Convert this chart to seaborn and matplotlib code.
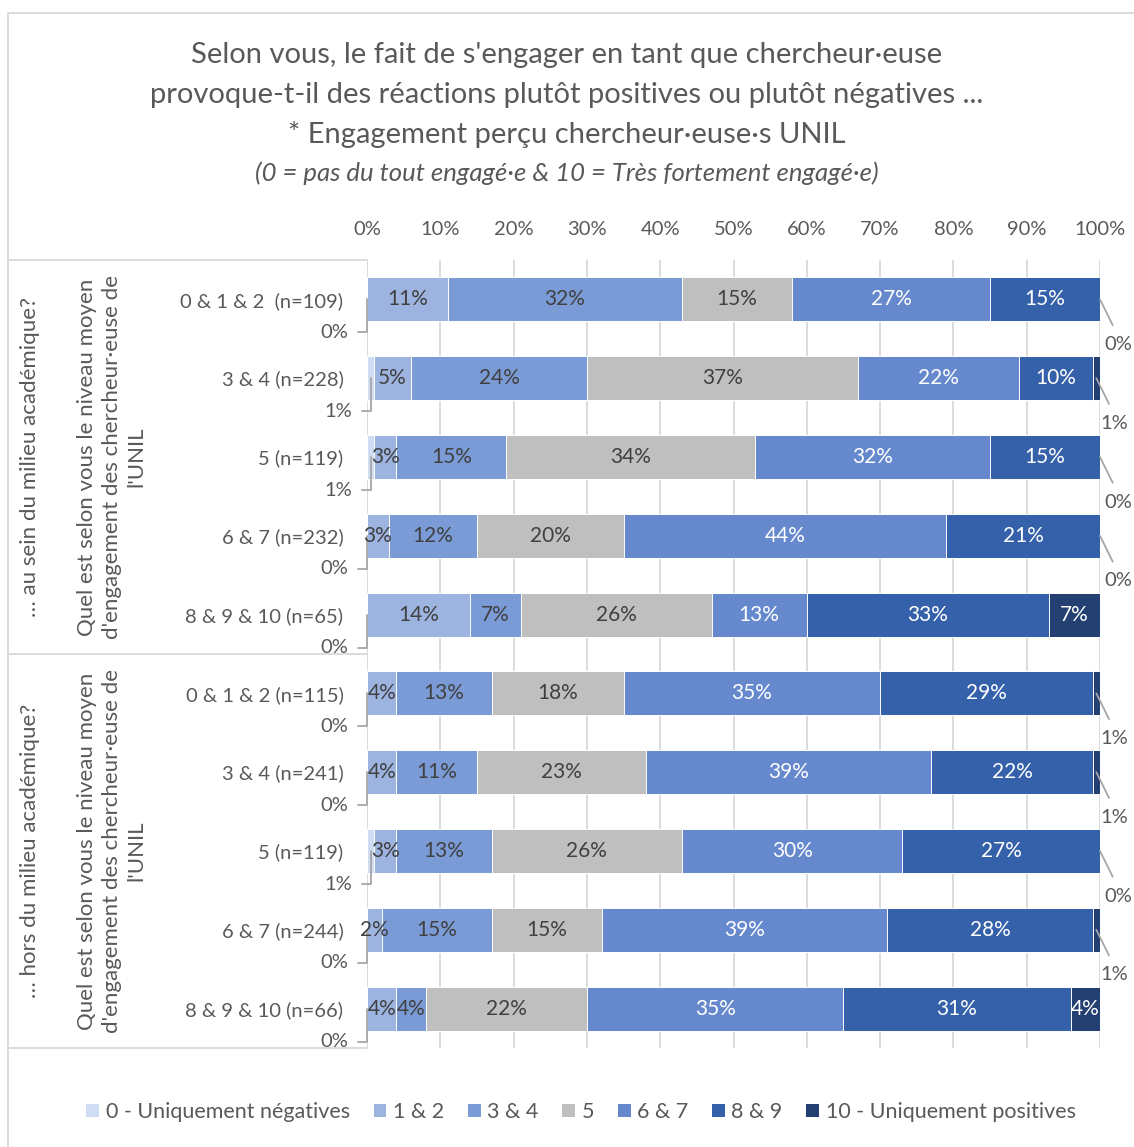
import numpy as np
import pandas as pd
import matplotlib
matplotlib.use("Agg")
import matplotlib.pyplot as plt
from matplotlib.lines import Line2D
from matplotlib.patches import Patch
import seaborn as sns

# ---- data ---------------------------------------------------------------
categories = ["0 - Uniquement négatives", "1 & 2", "3 & 4", "5", "6 & 7", "8 & 9",
              "10 - Uniquement positives"]
row_labels = ["0 & 1 & 2  (n=109)", "3 & 4 (n=228)", "5 (n=119)", "6 & 7 (n=232)",
              "8 & 9 & 10 (n=65)",
              "0 & 1 & 2 (n=115)", "3 & 4 (n=241)", "5 (n=119)", "6 & 7 (n=244)",
              "8 & 9 & 10 (n=66)"]
group_labels = ["… au sein du milieu académique?", "… hors du milieu académique?"]
axis_question = "Quel est selon vous le niveau moyen\nd'engagement des chercheur·euse de\nl'UNIL"

neg0 = [0, 1, 1, 0, 0, 0, 0, 1, 0, 0]
v12 = [11, 5, 3, 3, 14, 4, 4, 3, 2, 4]
v34 = [32, 24, 15, 12, 7, 13, 11, 13, 15, 4]
v5 = [15, 37, 34, 20, 26, 18, 23, 26, 15, 22]
v67 = [27, 22, 32, 44, 13, 35, 39, 30, 39, 35]
v89 = [15, 10, 15, 21, 33, 29, 22, 27, 28, 31]
pos10 = [0, 1, 0, 0, 7, 1, 1, 0, 1, 4]

title_lines = ["Selon vous, le fait de s'engager en tant que chercheur·euse",
               "provoque-t-il des réactions plutôt positives ou plutôt négatives ...",
               "* Engagement perçu chercheur·euse·s UNIL"]
subtitle = "(0 = pas du tout engagé·e & 10 = Très fortement engagé·e)"

# ---- styling --------------------------------------------------------------
colors = ["#cfdcf1", "#9db4e0", "#7a9bd5", "#bfbfbf", "#6689cd", "#3561aa", "#243f72"]
label_colors = ["#404040", "#404040", "#404040", "#404040", "white", "white", "white"]
GRAY = "#595959"
LINE = "#d9d9d9"
FS = 14.5

sns.set_theme(style="white")
plt.rcParams["font.family"] = ["Lato", "DejaVu Sans"]

W, H = 1134, 1147
fig = plt.figure(figsize=(W / 100, H / 100), dpi=100)
ax = fig.add_axes([367 / W, 1 - 1048 / H, 733 / W, 788 / H])

series = [neg0, v12, v34, v5, v67, v89, pos10]
vals = np.array(series, dtype=float)          # shape (7, 10)
cum = np.cumsum(vals, axis=0)
row_ids = [f"r{i}" for i in range(len(row_labels))]

df = pd.DataFrame({"row": row_ids})
for k in range(len(categories)):
    df[f"cum{k}"] = cum[k]

# stacked bars: draw cumulative totals from the outermost segment inward
for k in range(len(categories) - 1, -1, -1):
    sns.barplot(data=df, x=f"cum{k}", y="row", order=row_ids, color=colors[k],
                orient="h", width=0.56, edgecolor="white", linewidth=0.7,
                saturation=1, ax=ax, zorder=2)

ax.set_xlim(0, 100)
ax.set_ylim(len(row_ids) - 0.5, -0.5)
ax.set_xticks(np.arange(0, 101, 10))
ax.set_xticklabels([f"{t}%" for t in range(0, 101, 10)])
ax.xaxis.tick_top()
ax.set_yticks(range(len(row_ids)))
ax.set_yticklabels(row_labels)
ax.tick_params(axis="x", length=0, pad=16, labelsize=FS, colors=GRAY)
ax.tick_params(axis="y", length=0, pad=17, labelsize=FS, colors=GRAY)
ax.set_xlabel("")
ax.set_ylabel("")
for s in ax.spines.values():
    s.set_visible(False)
ax.grid(False)
for t in range(0, 101, 10):
    ax.axvline(t, color=LINE, lw=1.3, zorder=0)

# ---- value labels -------------------------------------------------------
for r in range(len(row_ids)):
    for k in range(len(categories)):
        v = vals[k, r]
        left = cum[k, r] - v
        if k == 0:
            # first category: outside, below-left, with an elbow leader
            ax.annotate(f"{v:.0f}%", xy=(left + v / 2, r), xycoords="data",
                        xytext=(-19, -33), textcoords="offset pixels",
                        ha="right", va="center", fontsize=FS, color=GRAY,
                        annotation_clip=False,
                        arrowprops=dict(arrowstyle="-", color="#a6a6a6", lw=1.3,
                                        connectionstyle="angle,angleA=0,angleB=90,rad=0",
                                        relpos=(1, 0.5), shrinkA=5, shrinkB=0))
        elif k == len(categories) - 1 and v <= 1:
            # last category when tiny: outside, below-right, with a leader
            ax.annotate(f"{v:.0f}%", xy=(left + v / 2, r), xycoords="data",
                        xytext=(18, -45), textcoords="offset pixels",
                        ha="center", va="center", fontsize=FS, color=GRAY,
                        annotation_clip=False,
                        arrowprops=dict(arrowstyle="-", color="#a6a6a6", lw=1.3,
                                        relpos=(0.5, 1), shrinkA=6, shrinkB=0))
        else:
            ax.text(left + v / 2, r, f"{v:.0f}%", ha="center", va="center",
                    fontsize=15, color=label_colors[k], zorder=5)

# ---- titles ---------------------------------------------------------------
for y, line in zip([55, 95, 135], title_lines):
    fig.text(0.5, 1 - y / H, line, ha="center", va="center", fontsize=21, color=GRAY)
fig.text(0.5, 1 - 173 / H, subtitle, ha="center", va="center", fontsize=18.5,
         color=GRAY, style="italic")

# ---- multi-level category frame -------------------------------------------
def fx(px):
    return px / W


def fy(py):
    return 1 - py / H


for py in (260, 654, 1048):
    fig.add_artist(Line2D([fx(8), fx(367)], [fy(py), fy(py)], color=LINE, lw=1.3))
fig.add_artist(Line2D([fx(8), fx(8)], [fy(13), fy(1147)], color=LINE, lw=1.3))
fig.add_artist(Line2D([fx(8), fx(1134)], [fy(13), fy(13)], color=LINE, lw=1.3))

for g, cy in zip(group_labels, (457, 851)):
    fig.text(fx(30), fy(cy), g, rotation=90, ha="center", va="center",
             fontsize=16, color=GRAY)
    fig.text(fx(112), fy(cy), axis_question, rotation=90, ha="center", va="center",
             fontsize=16, color=GRAY, multialignment="center", linespacing=1.3)

# ---- legend ---------------------------------------------------------------
handles = [Patch(facecolor=c, edgecolor="none") for c in colors]
leg = fig.legend(handles, categories, loc="center", ncol=7,
                 bbox_to_anchor=(581 / W, fy(1112)), frameon=False,
                 fontsize=15.5, handlelength=0.6, handleheight=0.6,
                 handletextpad=0.3, columnspacing=1.1)
for t in leg.get_texts():
    t.set_color(GRAY)

fig.savefig("out.png", dpi=100, facecolor="white")
